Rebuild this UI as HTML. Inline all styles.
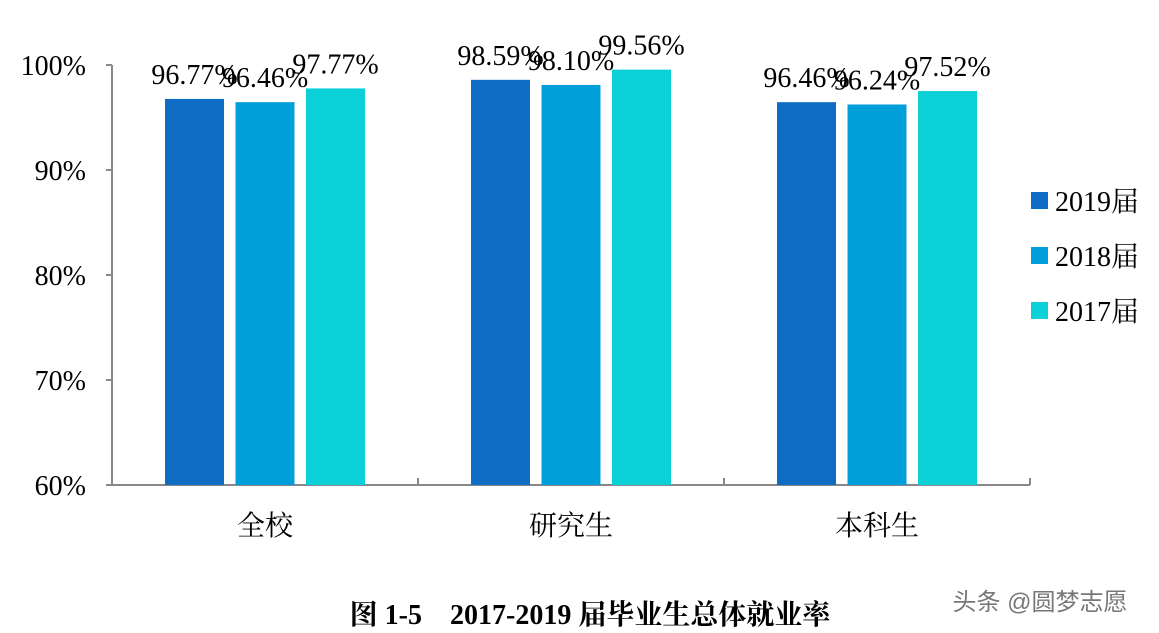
<!DOCTYPE html>
<html><head><meta charset="utf-8"><style>
body{margin:0;background:#fff;}
svg{display:block;}
text{font-family:"Liberation Serif","Noto Serif CJK SC",serif;}
</style></head><body>
<svg id="chart" width="1159" height="633"></svg>
<script>
const categories=["全校","研究生","本科生"];
const seriesNames=["2019届","2018届","2017届"];
const s2019=[96.77,98.59,96.46];
const s2018=[96.46,98.10,96.24];
const s2017=[97.77,99.56,97.52];
const yTicks=[60,70,80,90,100];
const colors=["#0E6CC4","#009FDA","#0CD0D8"];
const svg=document.getElementById('chart');
const NS="http://www.w3.org/2000/svg";
const x0=112,x1=1030,yBase=485,yTop=65,yMin=60,yMax=100;
const y=v=>yBase-(v-yMin)/(yMax-yMin)*(yBase-yTop);
const catW=(x1-x0)/categories.length;
function el(tag,attrs,txt){const e=document.createElementNS(NS,tag);for(const k in attrs)e.setAttribute(k,attrs[k]);if(txt!==undefined)e.textContent=txt;svg.appendChild(e);return e;}
// axes
let a=el('line',{x1:x0,y1:yTop,x2:x0,y2:yBase,stroke:'#888','stroke-width':2});

a=el('line',{x1:x0,y1:yBase,x2:x1,y2:yBase,stroke:'#888','stroke-width':2});

yTicks.forEach(t=>{
  const tk=el('line',{x1:x0-6,y1:y(t),x2:x0,y2:y(t),stroke:'#888','stroke-width':2});
  
  const l=el('text',{x:x0-26,y:y(t)+10,'font-size':28,'text-anchor':'end'},t+'%');
  
});
for(let i=0;i<=categories.length;i++){
  const tx=x0+i*catW;
  const tk=el('line',{x1:tx,y1:yBase,x2:tx,y2:yBase-7,stroke:'#888','stroke-width':2});
  
}
const series=[s2019,s2018,s2017];
const bw=59,gap=11.5;
categories.forEach((c,i)=>{
  const cx=x0+catW*(i+0.5);
  series.forEach((s,j)=>{
    const bx=cx+(j-1)*(bw+gap)-bw/2;
    const r=el('rect',{x:bx,y:y(s[i]),width:bw,height:yBase-y(s[i]),fill:colors[j]});
    
    const l=el('text',{x:bx+bw/2,y:y(s[i])-15,'font-size':28,'text-anchor':'middle'},s[i].toFixed(2)+'%');
    
  });
  const cl=el('text',{x:cx,y:535,'font-size':28,'text-anchor':'middle'},c);
  
});
seriesNames.forEach((n,j)=>{
  const ly=192+j*55;
  const sq=el('rect',{x:1031,y:ly,width:17,height:17,fill:colors[j]});
  
  const t=el('text',{x:1055,y:ly+19,'font-size':28},n);
  
});
const ti=el('text',{x:590,y:624,'font-size':28,'font-weight':'bold','text-anchor':'middle'},'图 1-5　2017-2019 届毕业生总体就业率');

const wm=el('text',{x:1040,y:610,'font-size':24,fill:'#777','text-anchor':'middle'},'头条 @圆梦志愿');

wm.style.fontFamily='"Liberation Sans","Noto Sans CJK SC",sans-serif';
</script>
</body></html>
